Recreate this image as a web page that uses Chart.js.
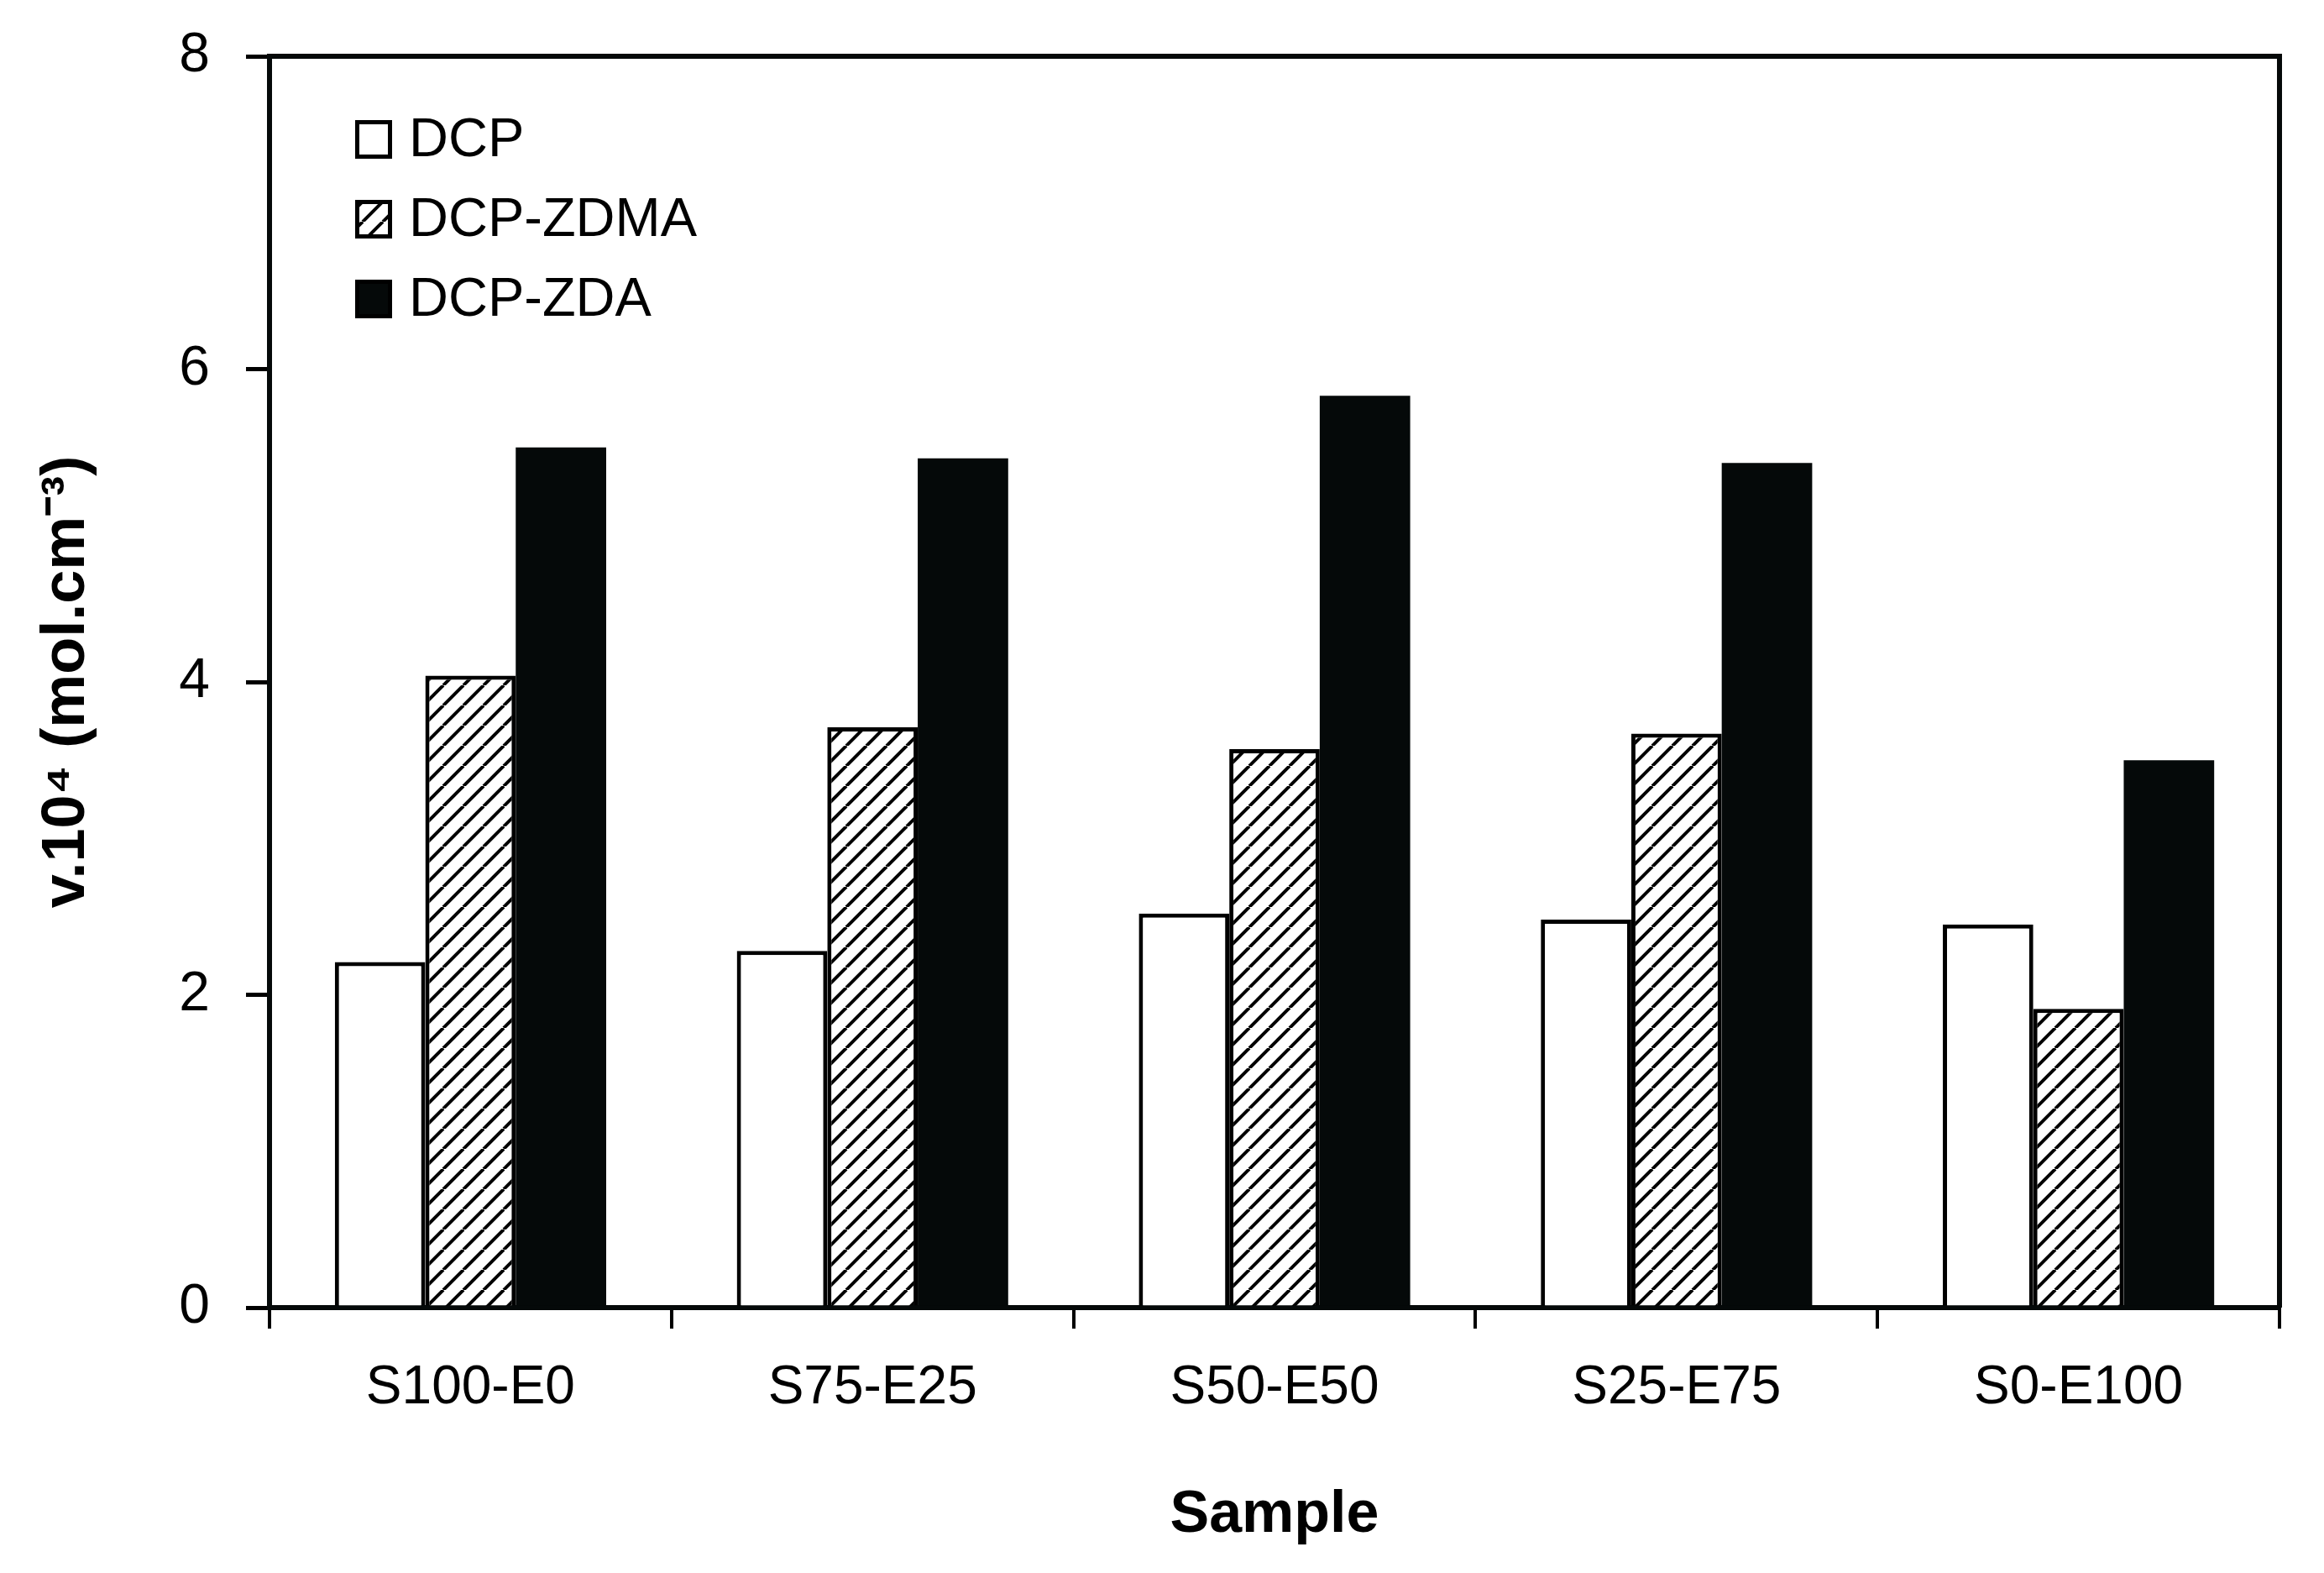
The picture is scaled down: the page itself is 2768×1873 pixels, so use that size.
<!DOCTYPE html>
<html>
<head>
<meta charset="utf-8">
<script src="https://cdn.jsdelivr.net/npm/chart.js@4.4.1/dist/chart.umd.min.js"></script>
<style>
body{margin:0;background:#fff;}
#wrap{width:2768px;height:1873px;}
</style>
</head>
<body>
<div id="wrap"><canvas id="cv" width="2768" height="1873"></canvas></div>
<script>
// sample names on the x axis
var samples = ['S100-E0', 'S75-E25', 'S50-E50', 'S25-E75', 'S0-E100'];
var seriesNames = ['DCP', 'DCP-ZDMA', 'DCP-ZDA'];
// crosslink density v.10^4 (mol.cm-3)
var dcp  = [2.21, 2.28, 2.52, 2.48, 2.45];
var zdma = [4.04, 3.71, 3.57, 3.67, 1.91];
var zda  = [5.50, 5.43, 5.83, 5.40, 3.50];
var yTicks = [0, 2, 4, 6, 8];

// diagonal hatch for DCP-ZDMA
function hatch(){
  var s = 24;
  var c = document.createElement('canvas');
  c.width = s; c.height = s;
  var g = c.getContext('2d');
  g.fillStyle = '#fff';
  g.fillRect(0, 0, s, s);
  g.strokeStyle = '#000';
  g.lineWidth = 4;
  for (var k = -1; k <= 1; k++) {
    g.beginPath();
    g.moveTo(k*s, s);
    g.lineTo(k*s + s, 0);
    g.stroke();
  }
  return g.createPattern(c, 'repeat');
}
var ctx = document.getElementById('cv').getContext('2d');
var hatchFill = hatch();

Chart.defaults.font.family = "'Liberation Sans', Arial, sans-serif";
Chart.defaults.color = '#000';

// box round the plot (top and right sides)
var frame = {
  id: 'frame',
  afterDraw: function(chart){
    var a = chart.chartArea, c = chart.ctx;
    c.save();
    c.strokeStyle = '#050909';
    c.lineWidth = 6;
    c.beginPath();
    c.moveTo(a.left, a.top);
    c.lineTo(a.right, a.top);
    c.lineTo(a.right, a.bottom);
    c.stroke();
    c.restore();
  }
};

// legend drawn inside the plot, upper left
var innerLegend = {
  id: 'innerLegend',
  afterDraw: function(chart){
    var c = chart.ctx;
    c.save();
    c.font = "65px 'Liberation Sans', Arial, sans-serif";
    c.textBaseline = 'middle';
    c.textAlign = 'left';
    chart.data.datasets.forEach(function(ds, i){
      var cy = 166 + i*95;
      var x = 423, w = 44, h = 46;
      c.fillStyle = ds.backgroundColor;
      c.fillRect(x, cy - h/2, w, h);
      c.lineWidth = 5;
      c.strokeStyle = '#000';
      c.strokeRect(x + 2.5, cy - h/2 + 2.5, w - 5, h - 5);
      c.fillStyle = '#000';
      c.fillText(ds.label, 487, cy + 2);
    });
    c.restore();
  }
};

new Chart(ctx, {
  type: 'bar',
  data: {
    labels: samples,
    datasets: [
      {label: seriesNames[0], data: dcp, backgroundColor: '#ffffff', borderColor: '#000', borderWidth: 5},
      {label: seriesNames[1], data: zdma, backgroundColor: hatchFill, borderColor: '#000', borderWidth: 5},
      {label: seriesNames[2], data: zda, backgroundColor: '#050909', borderColor: '#050909', borderWidth: 0}
    ]
  },
  plugins: [frame, innerLegend],
  options: {
    responsive: false,
    animation: false,
    devicePixelRatio: 1,
    layout: {padding: {top: 67, right: 53, left: 0, bottom: 0}},
    datasets: {bar: {categoryPercentage: 0.675, barPercentage: 1}},
    plugins: {legend: {display: false}, tooltip: {enabled: false}},
    scales: {
      x: {
        grid: {offset: true, drawOnChartArea: false, drawTicks: true, tickLength: 25, color: '#000', lineWidth: 4},
        border: {display: true, color: '#050909', width: 6},
        ticks: {font: {size: 64}, padding: 33, maxRotation: 0},
        title: {display: true, text: 'Sample', font: {size: 70, weight: 'bold'}, padding: {top: 0, bottom: 26}},
        afterFit: function(s){ s.height = 316; s.paddingLeft = 0; s.paddingRight = 0; }
      },
      y: {
        min: 0, max: 8,
        afterBuildTicks: function(s){ s.ticks = yTicks.map(function(v){ return {value: v}; }); },
        grid: {drawOnChartArea: false, drawTicks: true, tickLength: 28, color: '#000', lineWidth: 5},
        border: {display: true, color: '#050909', width: 6},
        ticks: {font: {size: 66}, padding: 43},
        title: {display: true, text: 'v.10\u2074 (mol.cm\u207B\u00B3)', font: {size: 72, weight: 'bold'}, padding: {top: 37, bottom: 0}},
        afterFit: function(s){ s.width = 321; s.paddingTop = 0; s.paddingBottom = 0; }
      }
    }
  }
});
</script>
</body>
</html>
